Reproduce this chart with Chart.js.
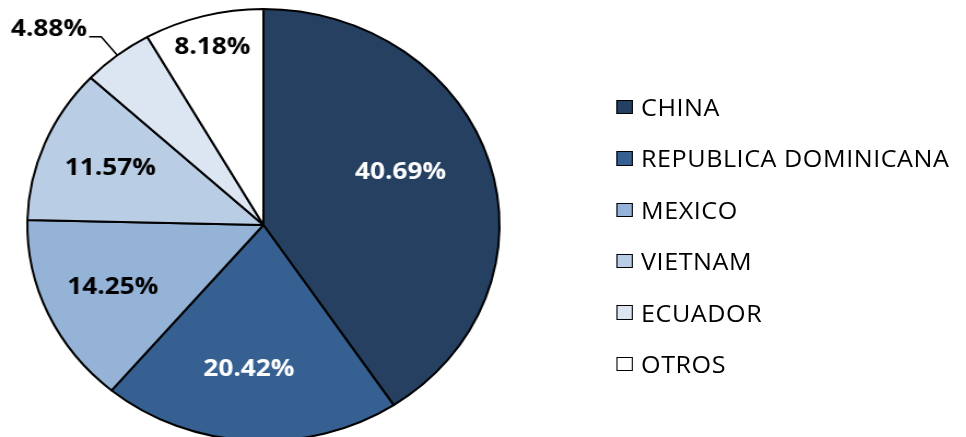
<!DOCTYPE html>
<html>
<head>
<meta charset="utf-8">
<script src="https://cdn.jsdelivr.net/npm/chart.js@4.4.1/dist/chart.umd.min.js"></script>
<style>
	html, body { margin: 0; padding: 0; background: #fff; overflow: hidden; }
	#wrap { position: absolute; left: 0; top: 0; width: 884px; height: 446px; transform: scaleX(1.093); transform-origin: 0 0; }
	#pie { position: absolute; left: 0; top: 0; }
	#legend { position: absolute; left: 564px; top: 0; font-family: 'Open Sans'; font-size: 23px; color: #000; }
	.item { position: absolute; left: 0; height: 30px; white-space: nowrap; display: flex; align-items: center; letter-spacing: 0.5px; }
	.box { width: 12.5px; height: 12.5px; border: 1.5px solid #000; margin-right: 8px; }
</style>
</head>
<body>
<div id="wrap">
	<canvas id="pie" width="482" height="446"></canvas>
	<div id="legend"></div>
</div>
<script>
// data
var paises = ['CHINA', 'REPUBLICA DOMINICANA', 'MEXICO', 'VIETNAM', 'ECUADOR', 'OTROS'];
var participacion = [40.69, 20.42, 14.25, 11.57, 4.88, 8.18];

// styles
var colores = ['#254061', '#376092', '#95b3d7', '#b9cde5', '#dce6f2', '#ffffff'];
var colorTexto = ['#ffffff', '#ffffff', '#000000', '#000000', '#000000', '#000000'];
var radioEtiqueta = [0.63, 0.67, 0.70, 0.70, 1.11, 0.85];
var giroEtiqueta = [-6, 2, 0, 0, 0, 0]; // degrees

var etiquetas = {
	id: 'etiquetas',
	afterDatasetsDraw: function(chart) {
		var ctx = chart.ctx;
		var arcs = chart.getDatasetMeta(0).data;
		ctx.save();
		ctx.font = 'bold 24px "Open Sans"';
		arcs.forEach(function(arc, i) {
			var p = arc.getProps(['x', 'y', 'startAngle', 'endAngle', 'outerRadius'], true);
			var mid = (p.startAngle + p.endAngle) / 2 + giroEtiqueta[i] * Math.PI / 180;
			var r = p.outerRadius * radioEtiqueta[i];
			var tx = p.x + Math.cos(mid) * r;
			var ty = p.y + Math.sin(mid) * r;
			var txt = participacion[i].toFixed(2) + '%';
			ctx.fillStyle = colorTexto[i];
			if (participacion[i] < 5) {
				// outside label with leader line
				var ex = p.x + Math.cos(mid) * p.outerRadius;
				var ey = p.y + Math.sin(mid) * p.outerRadius;
				ctx.strokeStyle = '#000';
				ctx.lineWidth = 1.5;
				ctx.beginPath();
				ctx.moveTo(ex, ey);
				ctx.lineTo(tx, ty);
				ctx.lineTo(tx - 11, ty);
				ctx.stroke();
				ctx.textAlign = 'right';
				ctx.textBaseline = 'middle';
				ctx.fillText(txt, tx - 13, ty - 7.5);
			} else {
				ctx.textAlign = 'center';
				ctx.textBaseline = 'middle';
				ctx.fillText(txt, tx, ty);
			}
		});
		ctx.restore();
	}
};

new Chart(document.getElementById('pie').getContext('2d'), {
	type: 'pie',
	data: {
		labels: paises,
		datasets: [{
			data: participacion,
			backgroundColor: colores,
			borderColor: '#000000',
			borderWidth: 2
		}]
	},
	options: {
		responsive: false,
		animation: false,
		layout: { padding: { top: 8, bottom: 4, left: 0, right: 0 } },
		plugins: {
			legend: { display: false },
			tooltip: { enabled: false }
		}
	},
	plugins: [etiquetas]
});

// legend
var legend = document.getElementById('legend');
paises.forEach(function(p, i) {
	var item = document.createElement('div');
	item.className = 'item';
	item.style.top = (107 + i * 51.4 - 15) + 'px';
	var box = document.createElement('span');
	box.className = 'box';
	box.style.background = colores[i];
	item.appendChild(box);
	item.appendChild(document.createTextNode(p));
	legend.appendChild(item);
});
</script>
</body>
</html>
